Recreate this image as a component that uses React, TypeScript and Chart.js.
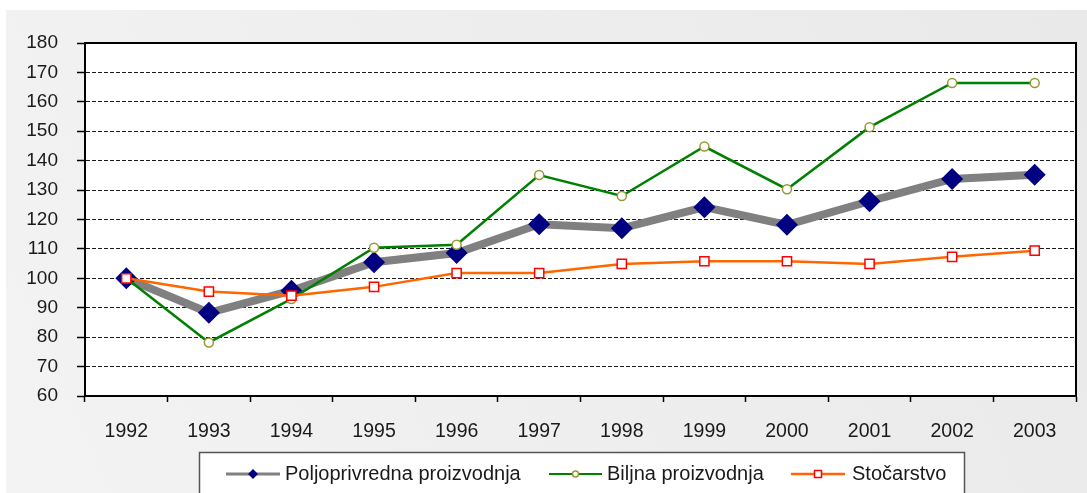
import React, { useEffect, useRef } from "react";
import { Chart, registerables } from "chart.js";

Chart.register(...registerables);

const years = ["1992", "1993", "1994", "1995", "1996", "1997", "1998", "1999", "2000", "2001", "2002", "2003"];
const poljoprivredna = [100, 88.3, 95.8, 105.5, 108.6, 118.4, 117.0, 124.2, 118.2, 126.2, 133.8, 135.2];
const biljna = [100, 78.2, 93.0, 110.4, 111.4, 135.1, 128.0, 144.8, 130.3, 151.4, 166.4, 166.4];
const stocarstvo = [100, 95.5, 94.1, 97.1, 101.8, 101.8, 104.9, 105.8, 105.8, 104.9, 107.3, 109.4];
const seriesNames = ["Poljoprivredna proizvodnja", "Biljna proizvodnja", "Stočarstvo"];
const yTicks = { min: 60, max: 180, step: 10 };

const FONT = '"Liberation Sans", Arial, sans-serif';

const bgPlugin = {
  id: "bgPlugin",
  beforeDraw(chart: any) {
    const { ctx, width, height, chartArea } = chart;
    ctx.save();
    ctx.fillStyle = "#ffffff";
    ctx.fillRect(0, 0, width, height);
    const g = ctx.createLinearGradient(width, 10, 6, height);
    g.addColorStop(0, "#e9e9e9");
    g.addColorStop(1, "#f3f3f3");
    ctx.fillStyle = g;
    ctx.fillRect(6, 10, width - 6, height - 10);
    ctx.fillStyle = "#ffffff";
    ctx.fillRect(chartArea.left, chartArea.top, chartArea.right - chartArea.left, chartArea.bottom - chartArea.top);
    ctx.restore();
  },
  beforeDatasetsDraw(chart: any) {
    const { ctx, chartArea } = chart;
    ctx.save();
    ctx.strokeStyle = "#000000";
    ctx.lineWidth = 2;
    ctx.strokeRect(chartArea.left, chartArea.top, chartArea.right - chartArea.left, chartArea.bottom - chartArea.top);
    ctx.restore();
  },
  afterDraw(chart: any) {
    const { ctx } = chart;
    ctx.save();
    ctx.fillStyle = "#ffffff";
    ctx.fillRect(199, 452, 766, 60);
    ctx.strokeStyle = "#555555";
    ctx.lineWidth = 1.5;
    ctx.strokeRect(199.5, 452.5, 765, 60);
    const y = 474;
    const items = [
      { x1: 226, x2: 280, tx: 285, color: "#808080", lw: 3, marker: "diamond" },
      { x1: 549, x2: 602, tx: 607, color: "#008000", lw: 2, marker: "circle" },
      { x1: 791, x2: 845, tx: 852, color: "#ff6600", lw: 2.5, marker: "square" },
    ];
    items.forEach((it, i) => {
      ctx.strokeStyle = it.color;
      ctx.lineWidth = it.lw;
      ctx.beginPath();
      ctx.moveTo(it.x1, y);
      ctx.lineTo(it.x2, y);
      ctx.stroke();
      const cx = (it.x1 + it.x2) / 2;
      if (it.marker === "diamond") {
        ctx.fillStyle = "#000080";
        ctx.beginPath();
        ctx.moveTo(cx - 5, y);
        ctx.lineTo(cx, y - 5);
        ctx.lineTo(cx + 5, y);
        ctx.lineTo(cx, y + 5);
        ctx.closePath();
        ctx.fill();
      } else if (it.marker === "circle") {
        ctx.fillStyle = "#ffffff";
        ctx.strokeStyle = "#999933";
        ctx.lineWidth = 1.5;
        ctx.beginPath();
        ctx.arc(cx, y, 3, 0, Math.PI * 2);
        ctx.fill();
        ctx.stroke();
      } else {
        ctx.fillStyle = "#ffffff";
        ctx.strokeStyle = "#ff0000";
        ctx.lineWidth = 1.5;
        ctx.fillRect(cx - 3.5, y - 3.5, 7, 7);
        ctx.strokeRect(cx - 3.5, y - 3.5, 7, 7);
      }
      ctx.fillStyle = "#1a1a1a";
      ctx.font = `20px ${FONT}`;
      ctx.textBaseline = "middle";
      ctx.textAlign = "left";
      ctx.fillText(seriesNames[i], it.tx, y);
    });
    ctx.restore();
  },
};

export default function App() {
  const ref = useRef<HTMLCanvasElement | null>(null);
  useEffect(() => {
    document.body.style.margin = "0";
    const canvas = ref.current!;
    const chart = new Chart(canvas, {
      type: "line",
      data: {
        labels: years,
        datasets: [
          {
            label: seriesNames[0],
            data: poljoprivredna,
            borderColor: "#808080",
            borderWidth: 8,
            pointStyle: "rectRot",
            pointRadius: 11,
            pointHoverRadius: 11,
            pointBackgroundColor: "#000080",
            pointBorderColor: "#000080",
            pointBorderWidth: 0,
            order: 3,
          },
          {
            label: seriesNames[1],
            data: biljna,
            borderColor: "#008000",
            borderWidth: 2.5,
            pointStyle: "circle",
            pointRadius: 4.5,
            pointHoverRadius: 4.5,
            pointBackgroundColor: "#ffffff",
            pointBorderColor: "#999933",
            pointBorderWidth: 1.5,
            order: 2,
          },
          {
            label: seriesNames[2],
            data: stocarstvo,
            borderColor: "#ff6600",
            borderWidth: 2.5,
            pointStyle: "rect",
            pointRadius: 6.5,
            pointHoverRadius: 6.5,
            pointBackgroundColor: "#ffffff",
            pointBorderColor: "#ff0000",
            pointBorderWidth: 1.5,
            order: 1,
          },
        ],
      },
      options: {
        responsive: false,
        animation: false,
        devicePixelRatio: 1,
        layout: { padding: { top: 43, right: 5, left: 0, bottom: 0 } },
        plugins: {
          legend: { display: false },
          tooltip: { enabled: false },
        },
        scales: {
          x: {
            type: "category",
            offset: true,
            grid: {
              offset: true,
              drawOnChartArea: false,
              drawTicks: true,
              tickLength: 6,
              tickColor: "#000000",
              tickWidth: 1.5,
            },
            border: { display: true, color: "#000000", width: 2 },
            ticks: {
              color: "#1a1a1a",
              padding: 18,
              font: { family: FONT, size: 19.5 },
              maxRotation: 0,
            },
            afterFit: (scale: any) => {
              scale.height = 97;
            },
          },
          y: {
            min: yTicks.min,
            max: yTicks.max,
            grid: {
              color: "#1a1a1a",
              lineWidth: 1,
              tickLength: 8,
              tickColor: "#000000",
              tickWidth: 1.5,
              tickBorderDash: [],
            },
            border: { display: true, color: "#000000", width: 2, dash: [4, 2] },
            ticks: {
              stepSize: yTicks.step,
              color: "#1a1a1a",
              padding: 19,
              font: { family: FONT, size: 19 },
            },
            afterFit: (scale: any) => {
              scale.width = 85;
            },
          },
        },
      },
      plugins: [bgPlugin],
    });
    return () => chart.destroy();
  }, []);
  return (
    <canvas
      ref={ref}
      width={1087}
      height={493}
      style={{ display: "block", width: "1087px", height: "493px" }}
    />
  );
}
